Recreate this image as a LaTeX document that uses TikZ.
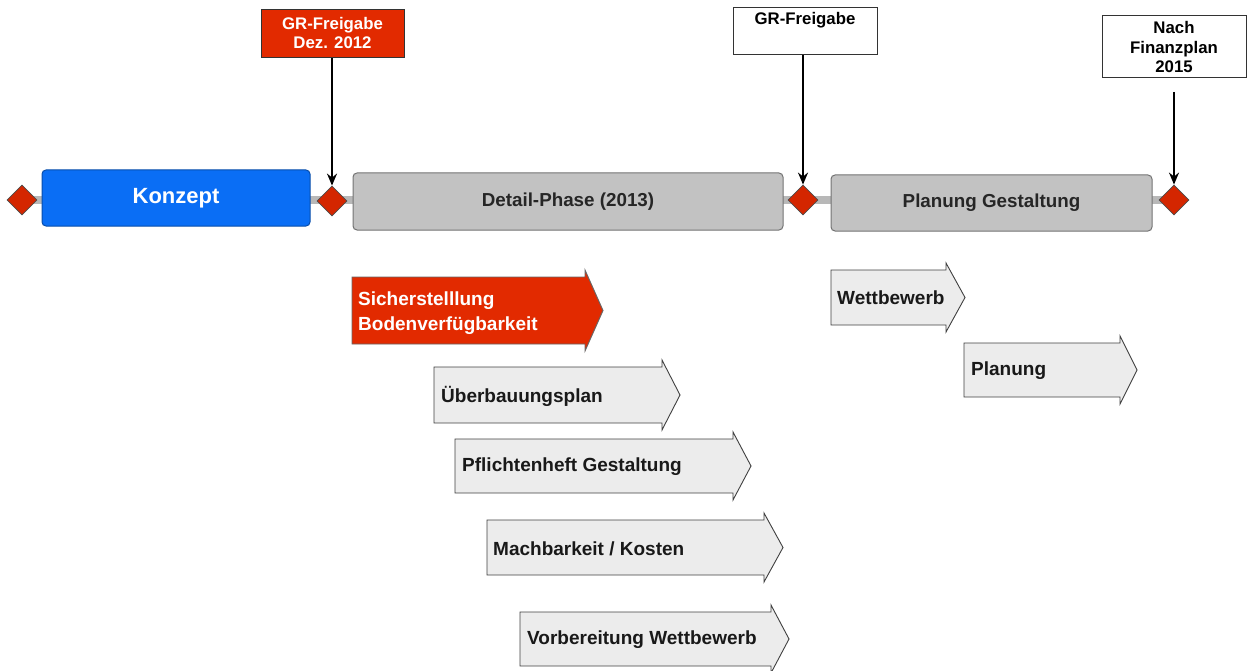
\documentclass[tikz,border=0pt]{standalone}
\usepackage{fontspec}
\setmainfont{Liberation Sans}
\usetikzlibrary{shapes.geometric,arrows.meta}
\definecolor{tlred}{RGB}{226,42,0}
\definecolor{dmred}{RGB}{212,38,0}
\definecolor{kblue}{RGB}{10,110,245}
\definecolor{pgray}{RGB}{194,194,194}
\definecolor{agray}{RGB}{236,236,236}
\definecolor{tline}{RGB}{184,184,184}
\newcommand\procarrow[6]{%
  \draw[#1] (#2,#3) -- (#5,#3) -- (#5,{#3-7}) -- (#6,{(#3+#4)/2}) -- (#5,{#4+7}) -- (#5,#4) -- (#2,#4) -- cycle;}
\begin{document}
\begin{tikzpicture}[x=1pt,y=-1pt,
  phase/.style={draw=black!55,fill=pgray,rounded corners=4pt,line width=1pt,inner sep=0pt,
    font=\fontsize{18.8}{22}\selectfont\bfseries,text=black!85},
  mstone/.style={diamond,draw=black!70,fill=dmred,minimum width=30pt,minimum height=30pt,inner sep=0pt,line width=0.8pt},
  topbox/.style={draw=black!80,line width=1pt,inner sep=0pt},
  toptxt/.style={font=\fontsize{16.8}{19.5}\selectfont\bfseries,align=center,inner sep=0pt},
  procbox/.style={draw=black!75,fill=agray,line width=0.9pt,line join=miter},
  redproc/.style={draw=black!60,fill=tlred,line width=0.9pt,line join=miter},
  proctxt/.style={anchor=west,font=\fontsize{19}{24}\selectfont\bfseries,text=black!90,inner sep=0pt,align=left},
  pointer/.style={line width=1.8pt,-{Stealth[length=12pt,width=10pt]}}
]
\useasboundingbox (0,0) rectangle (1255,671);

% timeline bar
\coordinate (tlA) at (22,200);
\coordinate (tlB) at (1174,200);
\draw[tline,line width=8pt] (tlA) -- (tlB);

% phases
\node[phase,draw=kblue!70!black,fill=kblue,text=white,font=\fontsize{22}{26}\selectfont\bfseries,
  minimum width=268pt,minimum height=56pt] (konzept) at (176,198) {Konzept};
\node[phase,minimum width=430pt,minimum height=57pt] (detail) at (568,201.5) {Detail-Phase (2013)};
\node[phase,minimum width=321pt,minimum height=56pt] (plang) at (991.5,203) {Planung Gestaltung};

% milestones
\node[mstone] (m0) at (22,200) {};
\node[mstone] (m1) at (332,201) {};
\node[mstone] (m2) at (803,200) {};
\node[mstone] (m3) at (1174,200) {};

% top boxes
\node[topbox,fill=tlred,minimum width=143pt,minimum height=48pt] (g1) at (332.5,34) {};
\node[toptxt,text=white] (g1t) at (332.5,33) {GR-Freigabe\\Dez. 2012};
\node[topbox,fill=white,minimum width=144pt,minimum height=47pt] (g2) at (805,31.5) {};
\node[toptxt,anchor=north] (g2t) at (805,12) {GR-Freigabe};
\node[topbox,fill=white,minimum width=144pt,minimum height=62pt] (g3) at (1174,47) {};
\node[toptxt] (g3t) at (1174,47) {Nach\\Finanzplan\\2015};
\coordinate (g3s) at (1174,92);

\draw[pointer] (g1.south -| m1.north) -- (m1.north);
\draw[pointer] (g2.south -| m2.north) -- (m2.north);
\draw[pointer] (g3s) -- (m3.north);

% process arrows
\procarrow{redproc}{352}{277}{344}{585}{603}
\node[proctxt,text=white,font=\fontsize{19}{24.5}\selectfont\bfseries] (a1) at (358,313) {Sicherstelllung\\Bodenverfügbarkeit};

\procarrow{procbox}{434}{367}{423}{662}{680}
\node[proctxt] (a2) at (441,396) {Überbauungsplan};

\procarrow{procbox}{455}{439}{493}{733}{751}
\node[proctxt] (a3) at (462,467) {Pflichtenheft Gestaltung};

\procarrow{procbox}{487}{520}{575}{764}{783}
\node[proctxt] (a4) at (493,549) {Machbarkeit / Kosten};

\procarrow{procbox}{520}{612}{666}{771}{789}
\node[proctxt] (a5) at (527,640) {Vorbereitung Wettbewerb};

\procarrow{procbox}{831}{270}{325}{946}{965}
\node[proctxt] (a6) at (837,298) {Wettbewerb};

\procarrow{procbox}{964}{343}{397}{1120}{1137}
\node[proctxt] (a7) at (971,371) {Planung};
\end{tikzpicture}
\end{document}
